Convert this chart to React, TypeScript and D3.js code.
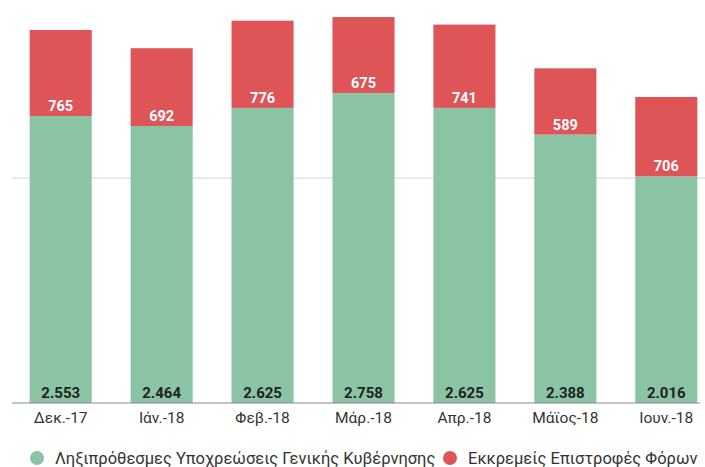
import React from "react";
import * as d3 from "d3";

const categories = ["Δεκ.-17", "Ιάν.-18", "Φεβ.-18", "Μάρ.-18", "Απρ.-18", "Μάϊος-18", "Ιουν.-18"];
const greenValues = [2553, 2464, 2625, 2758, 2625, 2388, 2016];
const redValues = [765, 692, 776, 675, 741, 589, 706];
const gridTicks = [2000];
const seriesNames = ["Ληξιπρόθεσμες Υποχρεώσεις Γενικής Κυβέρνησης", "Εκκρεμείς Επιστροφές Φόρων"];

const W = 705, H = 467;
const GREEN = "#8ac4a5";
const RED = "#df5457";
const FONT = "Roboto, 'Noto Sans', sans-serif";

export default function App() {
  const x = d3.scaleBand<string>().domain(categories).range([10.5, 716.5]).paddingInner(0.385).paddingOuter(0.19);
  const y = d3.scaleLinear().domain([0, 1000]).range([403, 403 - 112.42]);
  const bw = x.bandwidth();
  return (
    <svg width={W} height={H} style={{ position: "absolute", left: 0, top: 0, background: "#fff" }} fontFamily={FONT}>
      {gridTicks.map((t) => (
        <line key={t} x1={12} x2={705} y1={y(t)} y2={y(t)} stroke="#dcdcdc" strokeWidth={1.2} />
      ))}
      {categories.map((c, i) => {
        const g = greenValues[i];
        const r = redValues[i];
        const x0 = x(c)!;
        return (
          <g key={c}>
            <rect x={x0} width={bw} y={y(g)} height={y(0) - y(g)} fill={GREEN} />
            <rect x={x0} width={bw} y={y(g + r)} height={y(g) - y(g + r)} fill={RED} />
            <text x={x0 + bw / 2} y={y(g) - 5} textAnchor="middle" fill="#fff" fontSize={14.5} fontWeight="bold">
              {String(r)}
            </text>
            <text x={x0 + bw / 2} y={398} textAnchor="middle" fill="#222" fontSize={15} fontWeight="bold">
              {d3.format(",")(g).replace(",", ".")}
            </text>
            <text x={x0 + bw / 2} y={422.5} textAnchor="middle" fill="#333" fontSize={15.5}>
              {c}
            </text>
          </g>
        );
      })}
      <line x1={12} x2={700} y1={y(0)} y2={y(0)} stroke="#8a8a8a" strokeWidth={1.2} />
      <circle cx={37} cy={458} r={7} fill={GREEN} />
      <text x={55} y={464} fill="#333" fontSize={16.5}>{seriesNames[0]}</text>
      <circle cx={450} cy={458} r={7} fill={RED} />
      <text x={468} y={464} fill="#333" fontSize={16.5}>{seriesNames[1]}</text>
    </svg>
  );
}
